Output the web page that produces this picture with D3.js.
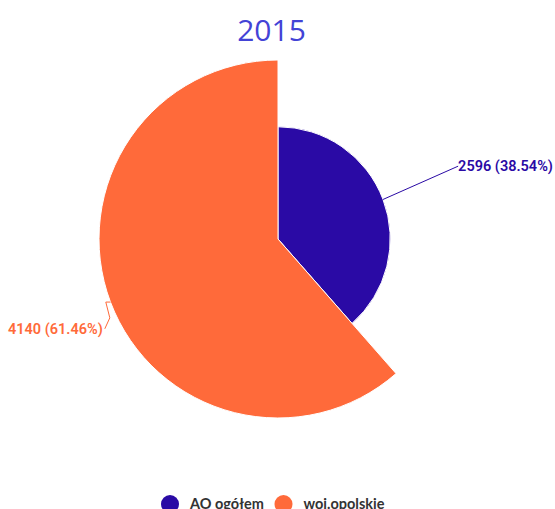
<!DOCTYPE html>
<html>
<head>
<meta charset="utf-8">
<script src="https://cdn.jsdelivr.net/npm/d3@7"></script>
<style>
  body { margin: 0; background: #fff; }
  svg { display: block; }
</style>
</head>
<body>
<div id="chart"></div>
<script>
// chart data
const title = "2015";
const categories = ["AO ogółem", "woj.opolskie"];
const values = [2596, 4140];
const colors = ["#2a0aa5", "#ff6a3a"];

const width = 555, height = 509;
const cx = 278, cy = 239;
const maxRadius = 179;

const svg = d3.select("#chart").append("svg")
  .attr("width", width)
  .attr("height", height);

// title
svg.append("text")
  .attr("x", width / 2 - 6)
  .attr("y", 41)
  .attr("text-anchor", "middle")
  .attr("font-family", "Open Sans, sans-serif")
  .attr("font-size", 30)
  .attr("fill", "#4343d6")
  .text(title);

const total = d3.sum(values);
const data = categories.map((c, i) => ({name: c, value: values[i], color: colors[i]}));

// radius depends on value (variable pie)
const r = d3.scaleLinear()
  .domain([0, d3.max(values)])
  .range([0, maxRadius]);

const pie = d3.pie()
  .sort(null)
  .value(d => d.value);

const arcs = pie(data);

const arc = d3.arc()
  .innerRadius(0)
  .outerRadius(d => r(d.data.value));

const g = svg.append("g")
  .attr("transform", "translate(" + cx + "," + cy + ")");

g.selectAll("path.slice")
  .data(arcs)
  .enter()
  .append("path")
  .attr("class", "slice")
  .attr("d", arc)
  .attr("fill", d => d.data.color)
  .attr("stroke", "#fff")
  .attr("stroke-width", 1);

// data labels with connectors
const labelRadius = maxRadius + 22;
const labelShift = [-2, 19];

arcs.forEach((d, i) => {
  const mid = (d.startAngle + d.endAngle) / 2;
  const sx = Math.sin(mid), sy = -Math.cos(mid);
  const edgeR = r(d.data.value);
  const p0 = [sx * edgeR, sy * edgeR];
  const right = sx > 0;
  const ly = sy * labelRadius + labelShift[i];
  const lx = sx * labelRadius;
  let pts;
  if (right) {
    pts = [p0, [lx - 8, ly]];
  } else {
    const p1 = [sx * (edgeR + 5), p0[1]];
    pts = [p0, p1, [p1[0] + 4, ly - 11], [p1[0] - 1, ly]];
  }
  g.append("path")
    .attr("d", d3.line()(pts))
    .attr("fill", "none")
    .attr("stroke", d.data.color)
    .attr("stroke-width", 1);

  g.append("text")
    .attr("x", right ? lx - 8 : pts[3][0] - 2)
    .attr("y", ly)
    .attr("dy", "0.35em")
    .attr("text-anchor", right ? "start" : "end")
    .attr("font-family", "Roboto, sans-serif")
    .attr("font-weight", 600)
    .attr("font-size", 14.5)
    .attr("fill", d.data.color)
    .text(d.data.value + " (" + (d.data.value / total * 100).toFixed(2) + "%)");
});

// legend
const legend = svg.append("g")
  .attr("transform", "translate(0,504)");

const legendX = [170, 283.5];
categories.forEach((c, i) => {
  legend.append("circle")
    .attr("cx", legendX[i])
    .attr("cy", 0)
    .attr("r", 9)
    .attr("fill", colors[i]);
  legend.append("text")
    .attr("x", legendX[i] + 20)
    .attr("y", 4.5)
    .attr("font-family", "Lato, sans-serif")
    .attr("font-size", 14.5)
    .attr("font-weight", "bold")
    .attr("fill", "#333")
    .text(c);
});
</script>
</body>
</html>
